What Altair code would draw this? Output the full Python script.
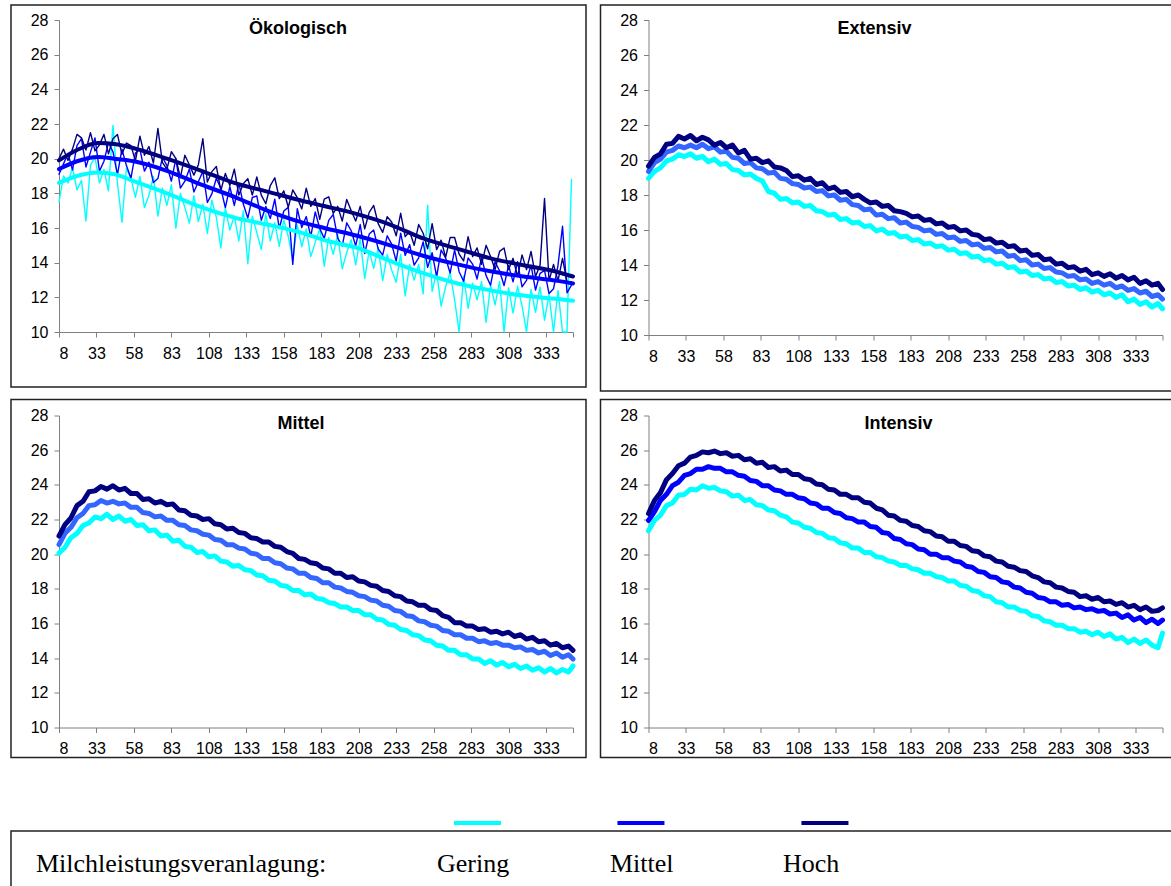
import altair as alt
import pandas as pd

# ------------------------------------------------------------------ data
DAYS = list(range(8, 349, 4)) + [351]          # sampled lactation days (smooth panels)
DAYS_OEKO = list(range(8, 351, 3))             # sampled lactation days (Ökologisch)
TREND_DAYS = [8, 20, 34, 45, 58, 80, 103, 125, 147, 169, 185, 207, 229, 251, 274, 296, 318, 341, 351]
X_TICKS = [8, 33, 58, 83, 108, 133, 158, 183, 208, 233, 258, 283, 308, 333]
Y_TICKS = [10, 12, 14, 16, 18, 20, 22, 24, 26, 28]
SERIES = ["Gering", "Mittel", "Hoch"]
PANEL_TITLES = ["Ökologisch", "Extensiv", "Mittel", "Intensiv"]
LEGEND_INTRO = "Milchleistungsveranlagung:"

OEKO_GERING = [
    17.5, 19.0, 18.6, 19.5, 18.2, 18.75, 16.4, 19.63, 20.07, 18.6,
    19.38, 18.15, 21.92, 18.62, 16.33, 19.45, 18.86, 17.77, 18.97, 17.18,
    17.88, 18.98, 16.69, 18.3, 17.3, 18.5, 15.99, 17.99, 17.18, 16.28,
    17.87, 16.37, 17.37, 15.69, 17.6, 16.62, 14.85, 17.16, 15.88, 16.7,
    15.25, 16.99, 13.94, 16.68, 15.73, 14.77, 16.82, 15.26, 16.3, 14.94,
    16.47, 15.51, 14.15, 16.18, 14.92, 15.94, 14.35, 15.17, 15.98, 13.8,
    15.44, 14.48, 15.62, 13.65, 14.59, 15.33, 13.87, 15.38, 13.08, 14.68,
    13.67, 14.87, 12.97, 14.47, 13.57, 12.87, 14.48, 12.08, 13.89, 12.99,
    13.9, 12.2, 17.32, 12.34, 13.46, 11.49, 12.61, 13.43, 11.85, 9.5,
    13.23, 11.37, 12.82, 11.86, 12.91, 10.55, 12.7, 11.56, 12.92, 9.7,
    12.54, 11.09, 12.65, 11.51, 9.6, 12.46, 11.13, 12.6, 10.68, 12.15,
    9.5, 12.4, 9.5, 9.5, 18.8]
OEKO_MITTEL = [
    19.1, 19.7, 20.3, 19.35, 20.75, 21.15, 19.52, 20.38, 21.2, 19.28,
    19.85, 20.93, 20.4, 19.08, 20.55, 19.6, 18.87, 20.33, 20.55, 19.28,
    19.8, 18.62, 18.85, 20.08, 19.6, 18.7, 20.0, 18.3, 18.7, 19.4,
    18.08, 18.67, 19.27, 17.47, 17.97, 18.87, 18.28, 17.18, 18.38, 17.3,
    18.59, 17.38, 16.57, 17.76, 17.85, 16.45, 17.24, 16.55, 17.66, 15.97,
    16.98, 17.19, 13.9, 17.11, 16.03, 16.66, 15.5, 16.93, 15.97, 15.4,
    16.44, 16.78, 15.42, 14.96, 16.3, 15.84, 14.97, 16.2, 14.53, 15.65,
    15.88, 14.8, 14.43, 15.55, 15.07, 14.09, 15.7, 14.42, 15.04, 13.86,
    14.28, 15.2, 13.73, 14.57, 13.2, 14.73, 14.27, 13.4, 14.74, 13.48,
    12.93, 14.27, 13.92, 13.06, 14.31, 13.25, 12.7, 14.06, 13.52, 12.68,
    13.84, 12.89, 14.05, 12.61, 12.98, 13.85, 12.42, 13.38, 13.55, 12.22,
    12.49, 13.85, 16.1, 12.26, 12.7]
OEKO_HOCH = [
    20.0, 20.55, 19.9, 20.55, 21.4, 21.2, 20.5, 21.5, 20.45, 20.8,
    21.4, 20.28, 21.15, 21.4, 20.25, 20.9, 20.75, 19.87, 21.3, 20.2,
    20.7, 19.75, 21.75, 19.78, 19.4, 20.4, 20.0, 18.9, 20.2, 19.65,
    19.05, 19.65, 21.15, 18.65, 19.25, 19.55, 18.15, 19.15, 18.45, 19.4,
    17.9, 18.55, 18.85, 17.9, 18.95, 17.9, 17.4, 18.45, 18.9, 17.7,
    18.15, 17.2, 18.2, 17.75, 17.1, 18.3, 17.25, 17.7, 16.5, 17.67,
    17.8, 16.85, 17.25, 16.4, 17.65, 17.0, 16.4, 17.25, 15.95, 16.9,
    17.3, 16.25, 15.75, 16.65, 16.35, 15.55, 16.85, 15.5, 15.8, 15.0,
    16.2, 15.7, 14.8, 16.25, 14.75, 15.3, 14.3, 15.45, 15.45, 14.5,
    14.1, 15.5, 14.35, 14.85, 13.9, 15.0, 14.35, 13.6, 14.65, 14.85,
    13.6, 14.25, 13.2, 14.45, 13.6, 14.65, 13.2, 13.85, 17.7, 12.95,
    13.9, 12.95, 14.25, 12.9, 12.9]
OEKO_TREND_GERING = [18.6, 19.0, 19.2, 19.1, 18.7, 18.0, 17.2, 16.6, 16.2, 15.75, 15.3, 14.85, 14.1, 13.4, 12.8, 12.4, 12.1, 11.9, 11.8]
OEKO_TREND_MITTEL = [19.4, 19.85, 20.1, 20.0, 19.85, 19.3, 18.5, 17.8, 17.0, 16.35, 16.0, 15.55, 15.0, 14.4, 13.9, 13.5, 13.2, 12.95, 12.8]
OEKO_TREND_HOCH = [19.9, 20.5, 20.9, 20.85, 20.6, 20.0, 19.3, 18.6, 18.1, 17.6, 17.27, 16.8, 16.2, 15.4, 14.8, 14.25, 13.85, 13.45, 13.2]

EXT_GERING = [
    18.95, 19.35, 19.55, 19.95, 20.05, 20.3, 20.2, 20.35, 20.1, 20.2,
    19.9, 20.05, 19.75, 19.8, 19.45, 19.4, 19.15, 19.2, 18.95, 18.8,
    18.2, 18.1, 17.75, 17.8, 17.55, 17.6, 17.35, 17.4, 17.1, 17.05,
    16.85, 16.9, 16.6, 16.65, 16.4, 16.45, 16.2, 16.25, 15.95, 16.05,
    15.8, 15.85, 15.6, 15.65, 15.4, 15.45, 15.2, 15.25, 15.05, 15.1,
    14.85, 14.9, 14.65, 14.7, 14.45, 14.5, 14.25, 14.3, 14.05, 14.1,
    13.85, 13.9, 13.6, 13.65, 13.4, 13.45, 13.2, 13.25, 13.0, 13.05,
    12.8, 12.85, 12.6, 12.7, 12.45, 12.55, 12.3, 12.4, 12.15, 12.3,
    11.9, 12.05, 11.75, 11.9, 11.6, 11.8, 11.5]
EXT_MITTEL = [
    19.35, 19.85, 20.05, 20.45, 20.55, 20.8, 20.7, 20.85, 20.7, 20.9,
    20.65, 20.75, 20.45, 20.5, 20.15, 20.1, 19.8, 19.85, 19.55, 19.5,
    19.25, 19.3, 18.95, 18.9, 18.65, 18.6, 18.4, 18.45, 18.2, 18.25,
    17.95, 18.0, 17.7, 17.75, 17.45, 17.4, 17.15, 17.2, 16.85, 16.9,
    16.65, 16.7, 16.4, 16.45, 16.2, 16.15, 15.95, 16.0, 15.75, 15.8,
    15.55, 15.6, 15.35, 15.4, 15.15, 15.2, 14.95, 15.0, 14.75, 14.8,
    14.5, 14.55, 14.25, 14.3, 14.0, 14.05, 13.8, 13.85, 13.6, 13.55,
    13.35, 13.4, 13.15, 13.2, 12.95, 13.05, 12.85, 12.95, 12.7, 12.8,
    12.55, 12.65, 12.4, 12.5, 12.2, 12.3, 12.05]
EXT_HOCH = [
    19.65, 20.15, 20.35, 20.9, 20.95, 21.35, 21.2, 21.4, 21.1, 21.3,
    21.15, 20.85, 21.0, 20.7, 20.85, 20.4, 20.55, 20.05, 20.1, 19.85,
    19.95, 19.6, 19.55, 19.4, 19.05, 19.1, 18.85, 18.95, 18.6, 18.7,
    18.35, 18.45, 18.15, 18.2, 17.9, 18.0, 17.75, 17.55, 17.6, 17.35,
    17.4, 17.1, 17.05, 16.95, 16.75, 16.8, 16.55, 16.6, 16.35, 16.4,
    16.15, 16.2, 15.95, 16.0, 15.75, 15.7, 15.45, 15.5, 15.25, 15.3,
    15.05, 15.1, 14.8, 14.85, 14.55, 14.6, 14.3, 14.35, 14.05, 14.1,
    13.85, 13.9, 13.65, 13.75, 13.45, 13.55, 13.35, 13.5, 13.25, 13.4,
    13.15, 13.3, 12.95, 13.1, 12.85, 12.95, 12.6]

MIT_GERING = [
    20.05, 20.4, 20.95, 21.2, 21.65, 21.8, 22.15, 22.05, 22.3, 22.0,
    22.2, 21.9, 22.0, 21.65, 21.7, 21.35, 21.4, 21.05, 21.1, 20.75,
    20.8, 20.45, 20.4, 20.1, 20.15, 19.85, 19.9, 19.6, 19.55, 19.3,
    19.35, 19.1, 19.05, 18.8, 18.75, 18.5, 18.45, 18.2, 18.15, 17.9,
    17.9, 17.65, 17.7, 17.45, 17.4, 17.2, 17.15, 16.95, 16.95, 16.75,
    16.75, 16.5, 16.5, 16.25, 16.2, 15.95, 15.9, 15.65, 15.6, 15.35,
    15.3, 15.05, 15.0, 14.75, 14.7, 14.45, 14.45, 14.2, 14.2, 13.95,
    13.95, 13.7, 13.85, 13.6, 13.75, 13.5, 13.65, 13.4, 13.55, 13.3,
    13.45, 13.2, 13.4, 13.15, 13.35, 13.2, 13.55]
MIT_MITTEL = [
    20.55, 21.2, 21.55, 22.1, 22.35, 22.8, 22.85, 23.1, 22.95, 23.05,
    22.9, 22.95, 22.7, 22.7, 22.4, 22.35, 22.15, 22.2, 21.95, 21.95,
    21.7, 21.65, 21.4, 21.35, 21.15, 21.1, 20.85, 20.8, 20.55, 20.55,
    20.35, 20.3, 20.05, 20.0, 19.75, 19.75, 19.5, 19.45, 19.2, 19.15,
    18.9, 18.9, 18.65, 18.6, 18.35, 18.35, 18.1, 18.05, 17.85, 17.8,
    17.6, 17.55, 17.35, 17.3, 17.05, 17.0, 16.75, 16.7, 16.45, 16.4,
    16.15, 16.1, 15.9, 15.85, 15.6, 15.55, 15.35, 15.35, 15.15, 15.15,
    14.95, 15.0, 14.85, 14.9, 14.75, 14.75, 14.6, 14.65, 14.45, 14.5,
    14.3, 14.4, 14.15, 14.3, 14.05, 14.2, 13.95]
MIT_HOCH = [
    21.05, 21.7, 22.1, 22.8, 23.05, 23.6, 23.65, 23.9, 23.75, 23.95,
    23.7, 23.8, 23.5, 23.5, 23.15, 23.2, 22.95, 23.05, 22.85, 22.9,
    22.55, 22.5, 22.25, 22.2, 22.0, 22.05, 21.75, 21.7, 21.45, 21.5,
    21.25, 21.2, 20.95, 20.9, 20.7, 20.7, 20.45, 20.4, 20.15, 20.05,
    19.75, 19.7, 19.5, 19.45, 19.2, 19.15, 18.9, 18.9, 18.65, 18.7,
    18.45, 18.4, 18.2, 18.15, 17.9, 17.85, 17.6, 17.55, 17.3, 17.25,
    17.05, 17.05, 16.8, 16.75, 16.45, 16.35, 16.05, 16.05, 15.85, 15.85,
    15.65, 15.7, 15.5, 15.55, 15.4, 15.5, 15.25, 15.35, 15.1, 15.2,
    14.95, 15.0, 14.75, 14.85, 14.6, 14.7, 14.45]

INT_GERING = [
    21.35, 21.95, 22.25, 22.8, 22.95, 23.4, 23.45, 23.75, 23.7, 23.95,
    23.8, 23.85, 23.65, 23.6, 23.35, 23.4, 23.1, 23.15, 22.85, 22.8,
    22.55, 22.5, 22.25, 22.15, 21.85, 21.8, 21.55, 21.5, 21.25, 21.2,
    20.95, 20.9, 20.65, 20.6, 20.35, 20.35, 20.1, 20.1, 19.85, 19.8,
    19.6, 19.55, 19.35, 19.35, 19.15, 19.1, 18.9, 18.9, 18.7, 18.65,
    18.45, 18.45, 18.2, 18.15, 17.9, 17.85, 17.6, 17.55, 17.25, 17.2,
    16.95, 16.95, 16.75, 16.7, 16.45, 16.4, 16.15, 16.1, 15.9, 15.9,
    15.7, 15.7, 15.5, 15.55, 15.35, 15.5, 15.25, 15.4, 15.1, 15.2,
    14.9, 15.1, 14.85, 15.05, 14.75, 14.6, 15.45]
INT_MITTEL = [
    21.95, 22.45, 23.1, 23.45, 23.95, 24.15, 24.55, 24.65, 24.9, 24.9,
    25.05, 24.95, 24.95, 24.75, 24.75, 24.55, 24.5, 24.25, 24.2, 23.95,
    23.95, 23.7, 23.65, 23.45, 23.45, 23.25, 23.2, 22.95, 22.9, 22.65,
    22.65, 22.4, 22.35, 22.1, 22.05, 21.85, 21.85, 21.6, 21.55, 21.25,
    21.2, 20.9, 20.85, 20.6, 20.55, 20.3, 20.25, 20.0, 20.0, 19.8,
    19.8, 19.6, 19.55, 19.3, 19.25, 19.0, 18.95, 18.7, 18.65, 18.4,
    18.35, 18.1, 18.05, 17.8, 17.75, 17.5, 17.45, 17.25, 17.25, 17.05,
    17.1, 16.9, 16.95, 16.8, 16.85, 16.7, 16.75, 16.55, 16.6, 16.35,
    16.5, 16.2, 16.35, 16.05, 16.25, 16.0, 16.2]
INT_HOCH = [
    22.35, 23.1, 23.55, 24.3, 24.65, 25.1, 25.25, 25.6, 25.7, 25.9,
    25.85, 25.95, 25.8, 25.85, 25.65, 25.7, 25.45, 25.5, 25.25, 25.3,
    25.0, 25.05, 24.8, 24.85, 24.6, 24.6, 24.35, 24.3, 24.05, 24.0,
    23.75, 23.7, 23.45, 23.45, 23.25, 23.25, 23.0, 22.95, 22.65, 22.55,
    22.25, 22.2, 21.95, 21.9, 21.65, 21.6, 21.35, 21.3, 21.05, 21.0,
    20.75, 20.75, 20.5, 20.45, 20.2, 20.15, 19.9, 19.85, 19.6, 19.55,
    19.3, 19.25, 19.05, 19.0, 18.75, 18.65, 18.4, 18.35, 18.1, 18.05,
    17.85, 17.8, 17.55, 17.6, 17.4, 17.5, 17.25, 17.3, 17.1, 17.2,
    16.95, 17.05, 16.8, 16.95, 16.7, 16.75, 16.9]

# ------------------------------------------------------------------ styles
CYAN, BLUE, NAVY, LIGHTBLUE = "#00FFFF", "#0000FF", "#000080", "#3366FF"
LEGEND_COLORS = [CYAN, BLUE, NAVY]
SANS = "Liberation Sans"
SERIF = "Liberation Serif"


def panel(title, title_x, w, h, xr, yr, specs):
    x_enc = alt.X(
        "day:Q", title=None,
        scale=alt.Scale(domain=[8, 351], range=xr, nice=False, zero=False),
        axis=alt.Axis(values=X_TICKS + [351],
                      labelExpr="datum.value > 340 ? '' : datum.label",
                      offset=-(h - yr[0]), labelPadding=8, labelAngle=0))
    y_enc = alt.Y(
        "value:Q", title=None,
        scale=alt.Scale(domain=[10, 28], range=yr, nice=False, zero=False, clamp=True),
        axis=alt.Axis(values=Y_TICKS, offset=-xr[0], labelPadding=6))
    layers = []
    for days, vals, color, width, interp in specs:
        df = pd.DataFrame({"day": days, "value": vals})
        mk = dict(color=color, strokeWidth=width, strokeJoin="round", strokeCap="round")
        if interp:
            mk["interpolate"] = interp
        layers.append(alt.Chart(df).mark_line(**mk).encode(x=x_enc, y=y_enc))
    ttl = alt.Chart(pd.DataFrame({"t": [title]})).mark_text(
        font=SANS, fontSize=18, fontWeight="bold", align="center", baseline="middle"
    ).encode(text="t:N", x=alt.value(title_x), y=alt.value(24))
    layers.append(ttl)
    return alt.layer(*layers).properties(width=w, height=h)


THICK = 5
p1 = panel(PANEL_TITLES[0], 287, 575, 382, [48, 562], [327, 15], [
    (DAYS_OEKO, OEKO_GERING, CYAN, 1.4, None),
    (DAYS_OEKO, OEKO_MITTEL, BLUE, 1.4, None),
    (DAYS_OEKO, OEKO_HOCH, NAVY, 1.4, None),
    (TREND_DAYS, OEKO_TREND_GERING, CYAN, 4, "monotone"),
    (TREND_DAYS, OEKO_TREND_MITTEL, BLUE, 4, "monotone"),
    (TREND_DAYS, OEKO_TREND_HOCH, NAVY, 4, "monotone"),
])
p2 = panel(PANEL_TITLES[1], 274, 585, 386, [48, 562], [330, 15], [
    (DAYS, EXT_GERING, CYAN, THICK, None),
    (DAYS, EXT_MITTEL, LIGHTBLUE, THICK, None),
    (DAYS, EXT_HOCH, NAVY, THICK, None),
])
p3 = panel(PANEL_TITLES[2], 290, 575, 358, [48, 562], [328, 16], [
    (DAYS, MIT_GERING, CYAN, THICK, None),
    (DAYS, MIT_MITTEL, LIGHTBLUE, THICK, None),
    (DAYS, MIT_HOCH, NAVY, THICK, None),
])
p4 = panel(PANEL_TITLES[3], 298, 585, 358, [48, 562], [328, 16], [
    (DAYS, INT_GERING, CYAN, THICK, None),
    (DAYS, INT_MITTEL, BLUE, THICK, None),
    (DAYS, INT_HOCH, NAVY, THICK, None),
])

# ------------------------------------------------------------------ legend
leg_df = pd.DataFrame({"label": SERIES})
intro = alt.Chart(pd.DataFrame({"t": [LEGEND_INTRO]})).mark_text(
    font=SERIF, fontSize=26, align="left", baseline="middle"
).encode(text="t:N", x=alt.value(25), y=alt.value(33))
labels = alt.Chart(leg_df).mark_text(
    font=SERIF, fontSize=26, align="left", baseline="middle", color="black"
).encode(
    x=alt.X("label:N", sort=SERIES, axis=None,
            scale=alt.Scale(type="point", domain=SERIES, range=[426, 772], padding=0)),
    y=alt.value(33), text="label:N")
swatches = alt.Chart(leg_df).mark_tick(
    orient="horizontal", size=47, thickness=4, opacity=1
).encode(
    x=alt.X("label:N", sort=SERIES, axis=None,
            scale=alt.Scale(type="point", domain=SERIES, range=[466.5, 820.8], padding=0)),
    xOffset=alt.XOffset("label:N",
                        scale=alt.Scale(type="point", domain=["Gering", "Hoch", "Mittel"],
                                        range=[0, -13.7], padding=0)),
    y=alt.value(-8),
    color=alt.Color("label:N", legend=None,
                    scale=alt.Scale(domain=SERIES, range=LEGEND_COLORS)))
legend = alt.layer(intro, labels, swatches).resolve_scale(x="independent").properties(
    width=1175, height=70)

row1 = alt.hconcat(p1, p2, spacing=12.5)
row2 = alt.hconcat(p3, p4, spacing=12.5)
grid = alt.vconcat(row1, row2, spacing=6.5)
chart = alt.vconcat(grid, legend, spacing=61).properties(
    padding={"left": 10, "top": 4, "right": -16, "bottom": -14}
).configure_view(
    stroke="#222222", strokeWidth=1.5
).configure_axis(
    grid=False, domainColor="#808080", tickColor="#808080", domainWidth=1,
    labelColor="#000000", labelFont=SANS, labelFontSize=16, tickSize=5
)

chart.save("out.html", embed_options={"renderer": "svg", "actions": False})
